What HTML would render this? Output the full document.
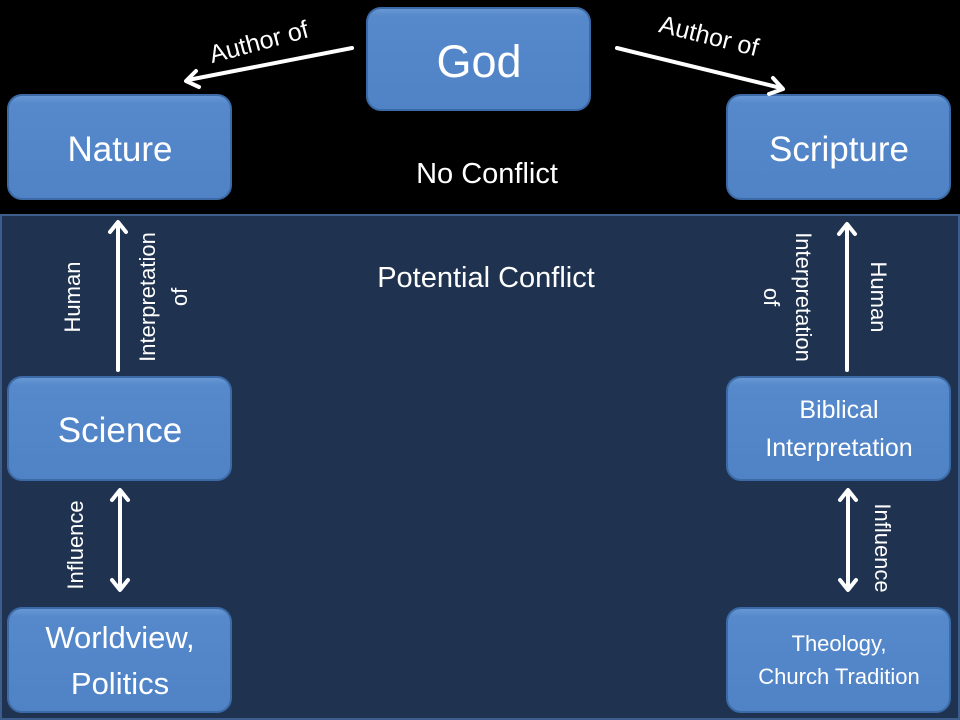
<!DOCTYPE html>
<html><head><meta charset="utf-8"><style>
html,body{margin:0;padding:0;background:#000;}
svg{display:block;}
text{font-family:"Liberation Sans",sans-serif;fill:#fff;}
</style></head><body>
<svg width="960" height="720" viewBox="0 0 960 720" xmlns="http://www.w3.org/2000/svg">
<defs>
<linearGradient id="bx" x1="0" y1="0" x2="0" y2="1">
<stop offset="0" stop-color="#6a9ad6"/><stop offset="0.08" stop-color="#5689cb"/><stop offset="1" stop-color="#4f83c6"/>
</linearGradient>
</defs>
<rect x="0" y="0" width="960" height="720" fill="#000"/>
<rect x="1" y="215" width="958" height="504" fill="#1f3350" stroke="#3d5d8c" stroke-width="2"/>

<g stroke="#3b6aa6" stroke-width="2" fill="url(#bx)">
<rect x="367" y="8" width="223" height="102" rx="14"/>
<rect x="8" y="95" width="223" height="104" rx="14"/>
<rect x="727" y="95" width="223" height="104" rx="14"/>
<rect x="8" y="377" width="223" height="103" rx="14"/>
<rect x="727" y="377" width="223" height="103" rx="14"/>
<rect x="8" y="608" width="223" height="104" rx="14"/>
<rect x="727" y="608" width="223" height="104" rx="14"/>
</g>

<g text-anchor="middle">
<text x="479" y="77" font-size="45">God</text>
<text x="120" y="161" font-size="35">Nature</text>
<text x="839" y="161" font-size="35">Scripture</text>
<text x="120" y="442" font-size="35">Science</text>
<text x="839" y="418" font-size="25">Biblical</text>
<text x="839" y="456" font-size="25">Interpretation</text>
<text x="120" y="648" font-size="31">Worldview,</text>
<text x="120" y="694" font-size="31">Politics</text>
<text x="839" y="651" font-size="22">Theology,</text>
<text x="839" y="684" font-size="22">Church Tradition</text>
<text x="487" y="183" font-size="29">No Conflict</text>
<text x="486" y="287" font-size="29">Potential Conflict</text>
</g>

<g stroke="#fff" stroke-width="4" fill="none" stroke-linecap="round" stroke-linejoin="round">
<line x1="352" y1="48" x2="188" y2="80"/>
<polyline points="199,87 186,81 196,71"/>
<line x1="617" y1="48" x2="781" y2="88"/>
<polyline points="769,94 783,89 773,78"/>
<line x1="118" y1="370" x2="118" y2="224"/>
<polyline points="110,232 118,222 126,232"/>
<line x1="847" y1="370" x2="847" y2="226"/>
<polyline points="839,234 847,224 855,234"/>
<line x1="120" y1="492" x2="120" y2="588"/>
<polyline points="112,500 120,490 128,500"/>
<polyline points="112,580 120,590 128,580"/>
<line x1="848" y1="492" x2="848" y2="588"/>
<polyline points="840,500 848,490 856,500"/>
<polyline points="840,580 848,590 856,580"/>
</g>

<text x="261" y="50" font-size="25" text-anchor="middle" transform="rotate(-15 261 50)">Author of</text>
<text x="707" y="44" font-size="25" text-anchor="middle" transform="rotate(14 707 44)">Author of</text>

<g font-size="22" text-anchor="middle">
<text transform="translate(80 297) rotate(-90)">Human</text>
<text transform="translate(155 297) rotate(-90)">Interpretation</text>
<text transform="translate(187 297) rotate(-90)">of</text>
<text transform="translate(83 545) rotate(-90)">Influence</text>
<text transform="translate(796 297) rotate(90)">Interpretation</text>
<text transform="translate(764 297) rotate(90)">of</text>
<text transform="translate(871 297) rotate(90)">Human</text>
<text transform="translate(875 548) rotate(90)">Influence</text>
</g>
</svg>
</body></html>
